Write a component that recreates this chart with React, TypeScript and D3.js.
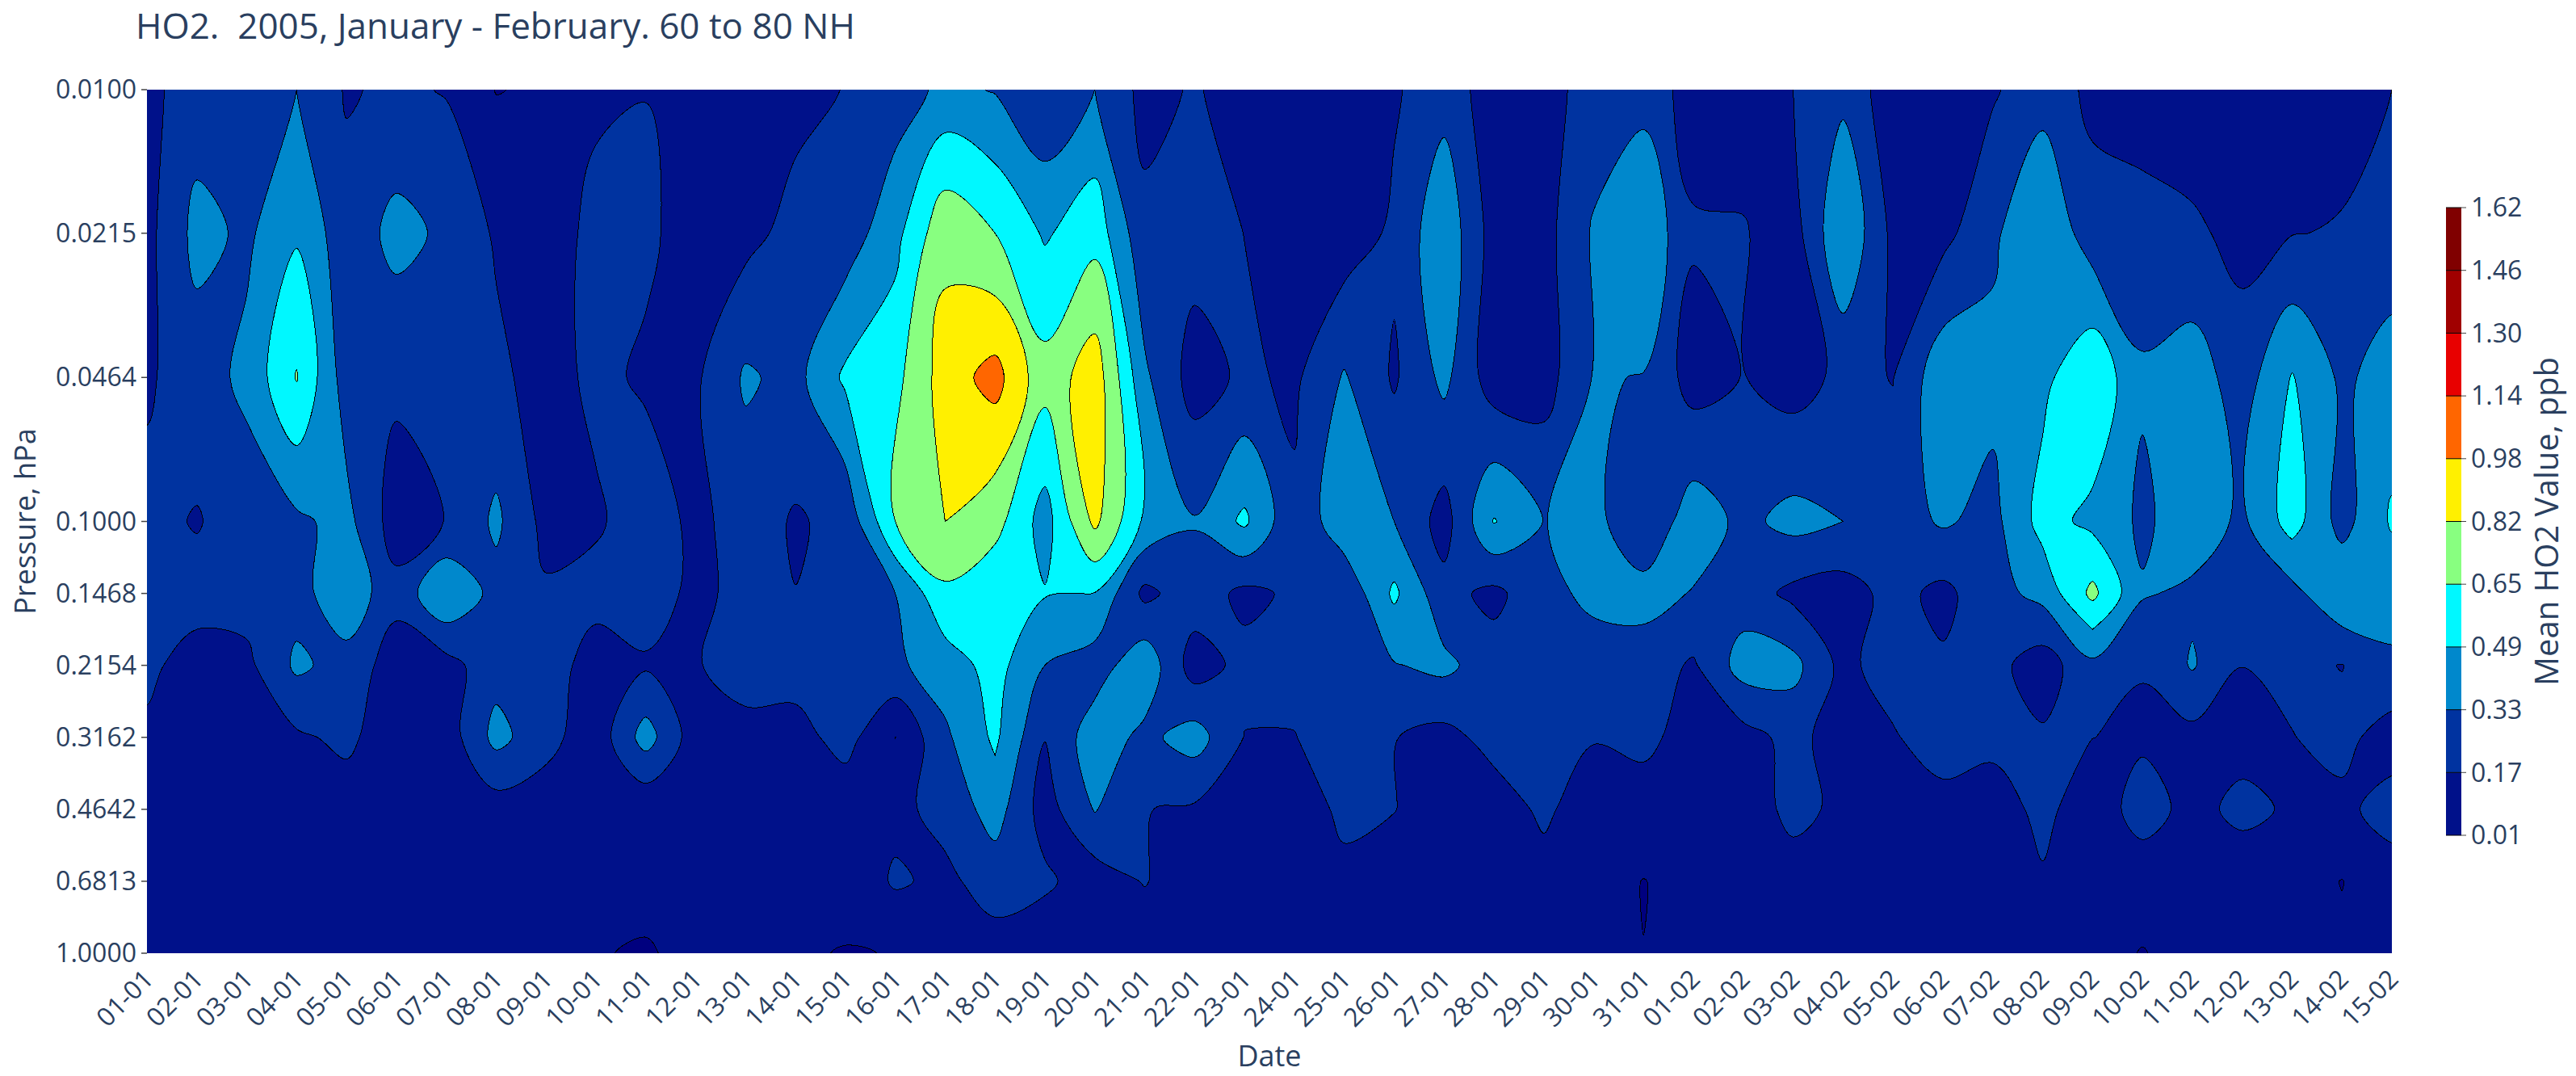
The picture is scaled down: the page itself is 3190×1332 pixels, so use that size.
import * as d3 from "d3";

const WIDTH = 3190;
const HEIGHT = 1332;
const plot = { left: 182, right: 2962, top: 111, bottom: 1180 };
const FONT = "'Open Sans', sans-serif";
const INK = "#2a3f5f";

const pressureLabels = ["0.0100", "0.0215", "0.0464", "0.1000", "0.1468", "0.2154", "0.3162", "0.4642", "0.6813", "1.0000"];

const dateLabels = [
  "01-01", "02-01", "03-01", "04-01", "05-01", "06-01", "07-01", "08-01", "09-01", "10-01",
  "11-01", "12-01", "13-01", "14-01", "15-01", "16-01", "17-01", "18-01", "19-01", "20-01",
  "21-01", "22-01", "23-01", "24-01", "25-01", "26-01", "27-01", "28-01", "29-01", "30-01",
  "31-01", "01-02", "02-02", "03-02", "04-02", "05-02", "06-02", "07-02", "08-02", "09-02",
  "10-02", "11-02", "12-02", "13-02", "14-02", "15-02",
];

// contour levels, as labelled on the colorbar
const levelLabels = ["0.01", "0.17", "0.33", "0.49", "0.65", "0.82", "0.98", "1.14", "1.30", "1.46", "1.62"];
const underColor = "#00007f";
const bandColors = ["#00118a", "#0033a0", "#0088cc", "#00f8ff", "#88ff80", "#fff000", "#ff6600", "#e80000", "#a00000", "#800000"];

// mean HO2 (ppb), one list per date, top pressure level first
const ho2ByDate = [
  [0.13, 0.12, 0.15, 0.21, 0.24, 0.195, 0.15, 0.09, 0.07, 0.05],
  [0.245, 0.38, 0.25, 0.16, 0.22, 0.12, 0.07, 0.06, 0.05, 0.05],
  [0.24, 0.3, 0.37, 0.24, 0.24, 0.13, 0.1, 0.07, 0.05, 0.05],
  [0.33, 0.47, 0.66, 0.3, 0.27, 0.36, 0.145, 0.09, 0.06, 0.05],
  [0.155, 0.23, 0.25, 0.38, 0.44, 0.27, 0.205, 0.09, 0.06, 0.05],
  [0.2, 0.38, 0.205, 0.09, 0.22, 0.09, 0.07, 0.06, 0.05, 0.05],
  [0.16, 0.3, 0.24, 0.175, 0.48, 0.11, 0.08, 0.06, 0.05, 0.05],
  [0.005, 0.15, 0.208, 0.36, 0.275, 0.27, 0.38, 0.092, 0.06, 0.05],
  [0.03, 0.1, 0.1, 0.12, 0.19, 0.26, 0.225, 0.08, 0.06, 0.04],
  [0.145, 0.21, 0.21, 0.145, 0.23, 0.09, 0.07, 0.05, 0.04, 0.016],
  [0.167, 0.2, 0.145, 0.26, 0.25, 0.15, 0.4, 0.04, 0.045, 0],
  [0.08, 0.1, 0.145, 0.13, 0.13, 0.16, 0.08, 0.05, 0.05, 0.04],
  [0.08, 0.12, 0.352, 0.24, 0.22, 0.23, 0.125, 0.07, 0.05, 0.03],
  [0.12, 0.225, 0.28, 0.155, 0.172, 0.24, 0.11, 0.06, 0.05, 0.022],
  [0.176, 0.24, 0.52, 0.21, 0.25, 0.22, 0.232, 0.06, 0.05, 0.005],
  [0.25, 0.44, 0.6, 0.65, 0.33, 0.3, 0.008, 0.13, 0.19, 0.013],
  [0.37, 0.77, 0.9, 0.82, 0.615, 0.41, 0.3, 0.22, 0.135, 0.07],
  [0.32, 0.65, 1.04, 0.71, 0.52, 0.55, 0.52, 0.4, 0.24, 0.1],
  [0.19, 0.47, 0.71, 0.42, 0.5, 0.33, 0.175, 0.1, 0.2, 0.05],
  [0.33, 0.59, 0.92, 0.86, 0.485, 0.25, 0.42, 0.34, 0.085, 0.05],
  [0.12, 0.21, 0.36, 0.46, 0.13, 0.44, 0.29, 0.175, 0.18, 0.05],
  [0.185, 0.24, 0.1, 0.34, 0.26, 0.09, 0.4, 0.147, 0.06, 0.05],
  [0.1, 0.168, 0.2, 0.52, 0.13, 0.22, 0.165, 0.08, 0.06, 0.05],
  [0.08, 0.08, 0.14, 0.2, 0.197, 0.22, 0.165, 0.07, 0.05, 0.05],
  [0.08, 0.08, 0.345, 0.44, 0.2, 0.22, 0.25, 0.21, 0.125, 0.06],
  [0.15, 0.2, 0.15, 0.33, 0.52, 0.32, 0.175, 0.175, 0.08, 0.05],
  [0.27, 0.45, 0.37, 0.105, 0.22, 0.37, 0.12, 0.08, 0.06, 0.05],
  [0.08, 0.1, 0.085, 0.5, 0.13, 0.24, 0.225, 0.09, 0.06, 0.05],
  [0.12, 0.11, 0.1, 0.326, 0.28, 0.25, 0.23, 0.2, 0.11, 0.05],
  [0.225, 0.35, 0.34, 0.38, 0.37, 0.25, 0.18, 0.08, 0.06, 0.04],
  [0.28, 0.46, 0.325, 0.195, 0.39, 0.25, 0.212, 0.09, 0.007, 0.011],
  [0.09, 0.19, 0.1, 0.42, 0.32, 0.15, 0.1, 0.07, 0.05, 0.04],
  [0.1, 0.18, 0.175, 0.29, 0.25, 0.4, 0.11, 0.07, 0.05, 0.04],
  [0.17, 0.1, 0.1, 0.38, 0.13, 0.38, 0.22, 0.22, 0.09, 0.04],
  [0.29, 0.48, 0.21, 0.33, 0.1, 0.12, 0.09, 0.13, 0.07, 0.04],
  [0.07, 0.13, 0.165, 0.25, 0.22, 0.26, 0.15, 0.08, 0.06, 0.04],
  [0.09, 0.12, 0.44, 0.35, 0.13, 0.19, 0.28, 0.09, 0.05, 0.04],
  [0.15, 0.3, 0.38, 0.28, 0.27, 0.22, 0.22, 0.08, 0.05, 0.04],
  [0.27, 0.48, 0.45, 0.55, 0.38, 0.09, 0.19, 0.22, 0.15, 0.05],
  [0.13, 0.24, 0.62, 0.45, 0.69, 0.29, 0.172, 0.06, 0.06, 0.05],
  [0.08, 0.24, 0.35, 0.3, 0.345, 0.18, 0.14, 0.25, 0.06, 0.005],
  [0.06, 0.2, 0.41, 0.42, 0.3, 0.345, 0.12, 0.11, 0.06, 0.05],
  [0.05, 0.12, 0.25, 0.3, 0.25, 0.172, 0.1, 0.22, 0.05, 0.04],
  [0.1, 0.165, 0.5, 0.56, 0.28, 0.21, 0.165, 0.143, 0.06, 0.05],
  [0.12, 0.18, 0.3, 0.27, 0.47, 0.165, 0.22, 0.13, 0.007, 0.03],
  [0.17, 0.24, 0.4, 0.51, 0.38, 0.31, 0.09, 0.24, 0.09, 0.05],
];

const xScale = d3.scaleLinear().domain([0, dateLabels.length - 1]).range([plot.left, plot.right]);
const yLog = d3.scaleLinear().domain([-2, 0]).range([plot.top, plot.bottom]);
const rowY = pressureLabels.map((p) => yLog(Math.log10(+p)));
// grid row index -> pixel, straight lines between the levels
const yScale = d3.scaleLinear().domain(d3.range(pressureLabels.length)).range(rowY);

const nx = dateLabels.length;
const ny = pressureLabels.length;
const clampTo = (v: number, n: number) => Math.max(0, Math.min(n - 1, v));

// d3.contours picks saddles by a fixed rule, so each cell is sampled bilinearly
// in quarter steps, and the grid is padded so the lines run off the plot
const SUB = 4;
const PAD = SUB;
const fineW = SUB * (nx - 1) + 1 + 2 * PAD;
const fineH = SUB * (ny - 1) + 1 + 2 * PAD;
const fine: number[] = [];
for (let q = -PAD; q < fineH - PAD; q++) {
  for (let p = -PAD; p < fineW - PAD; p++) {
    const i = clampTo(p / SUB, nx);
    const j = clampTo(q / SUB, ny);
    const i0 = Math.floor(i);
    const j0 = Math.floor(j);
    const i1 = Math.min(nx - 1, i0 + 1);
    const j1 = Math.min(ny - 1, j0 + 1);
    const top = d3.interpolateNumber(ho2ByDate[i0][j0], ho2ByDate[i1][j0])(i - i0);
    const bottom = d3.interpolateNumber(ho2ByDate[i0][j1], ho2ByDate[i1][j1])(i - i0);
    fine.push(d3.interpolateNumber(top, bottom)(j - j0));
  }
}

const contourGen = d3.contours().size([fineW, fineH]).smooth(true).thresholds(levelLabels.map(Number));
const ringLine = d3.line().curve(d3.curveCatmullRomClosed.alpha(0.5));

const isWhole = (v: number) => Math.abs(v - Math.round(v)) < 1e-6;

function ringPath(ring: number[][]) {
  const all = ring.slice(0, -1).map(([cx, cy]) => [(cx - 0.5 - PAD) / SUB, (cy - 0.5 - PAD) / SUB]);
  // spline only through crossings on the real grid lines
  let kept = all.filter(([i, j]) => isWhole(i) || isWhole(j) || i < 0 || j < 0 || i > nx - 1 || j > ny - 1);
  if (kept.length < 4) kept = all;
  const pts: [number, number][] = [];
  kept.forEach(([i, j]) => {
    const px = xScale(i);
    const py = yScale(j);
    const last = pts[pts.length - 1];
    if (!last || Math.hypot(px - last[0], py - last[1]) > 0.6) pts.push([px, py]);
  });
  return pts.length > 2 ? ringLine(pts) : "";
}

const bands = contourGen(fine).map((c, k) => ({
  color: bandColors[k],
  d: c.coordinates.flatMap((poly) => poly.map(ringPath)).join(""),
}));

const barTop = 257;
const barBottom = 1034;
const barLeft = 3029;
const barRight = 3048;
const barScale = d3.scaleLinear().domain([0, levelLabels.length - 1]).range([barBottom, barTop]);

export default function App() {
  return (
    <svg
      width={WIDTH}
      height={HEIGHT}
      viewBox={`0 0 ${WIDTH} ${HEIGHT}`}
      style={{ position: "absolute", left: 0, top: 0, background: "#fff" }}
      fontFamily={FONT}
    >
      <defs>
        <clipPath id="plot-clip">
          <rect x={plot.left} y={plot.top} width={plot.right - plot.left} height={plot.bottom - plot.top} />
        </clipPath>
      </defs>

      <text x={168} y={48} fontSize={44} fill={INK}>
        HO2.{"\u00a0\u00a0"}2005, January - February. 60 to 80 NH
      </text>

      <g clipPath="url(#plot-clip)" shapeRendering="crispEdges">
        <rect x={plot.left} y={plot.top} width={plot.right - plot.left} height={plot.bottom - plot.top} fill={underColor} />
        {bands.map((b, k) =>
          b.d ? <path key={k} d={b.d} fill={b.color} fillRule="evenodd" stroke="#000" strokeWidth={1} /> : null
        )}
      </g>

      {pressureLabels.map((p, k) => (
        <g key={p} transform={`translate(${plot.left},${rowY[k]})`}>
          <line x1={-7} x2={0} stroke="#444" strokeWidth={1.5} />
          <text x={-13} dy="0.35em" textAnchor="end" fontSize={32} fill={INK}>
            {p}
          </text>
        </g>
      ))}

      {dateLabels.map((d, k) => (
        <text
          key={d}
          transform={`translate(${xScale(k) + 10},${plot.bottom + 34}) rotate(-45)`}
          textAnchor="end"
          fontSize={32}
          fill={INK}
        >
          {d}
        </text>
      ))}

      <text
        transform={`translate(44,${(plot.top + plot.bottom) / 2}) rotate(-90)`}
        textAnchor="middle"
        fontSize={36}
        fill={INK}
      >
        Pressure, hPa
      </text>
      <text x={(plot.left + plot.right) / 2} y={1320} textAnchor="middle" fontSize={36} fill={INK}>
        Date
      </text>

      {bandColors.map((c, k) => (
        <rect key={c} x={barLeft} y={barScale(k + 1)} width={barRight - barLeft} height={barScale(k) - barScale(k + 1)} fill={c} />
      ))}
      {levelLabels.map((l, k) => (
        <g key={l} transform={`translate(0,${barScale(k)})`}>
          <line x1={barLeft} x2={barRight} stroke="#000" strokeWidth={1} />
          <line x1={barRight} x2={barRight + 6} stroke="#444" strokeWidth={1} />
          <text x={barRight + 12} dy="0.35em" fontSize={32} fill={INK}>
            {l}
          </text>
        </g>
      ))}
      <text
        transform={`translate(3168,${(barTop + barBottom) / 2}) rotate(-90)`}
        textAnchor="middle"
        fontSize={40}
        fill={INK}
      >
        Mean HO2 Value, ppb
      </text>
    </svg>
  );
}
